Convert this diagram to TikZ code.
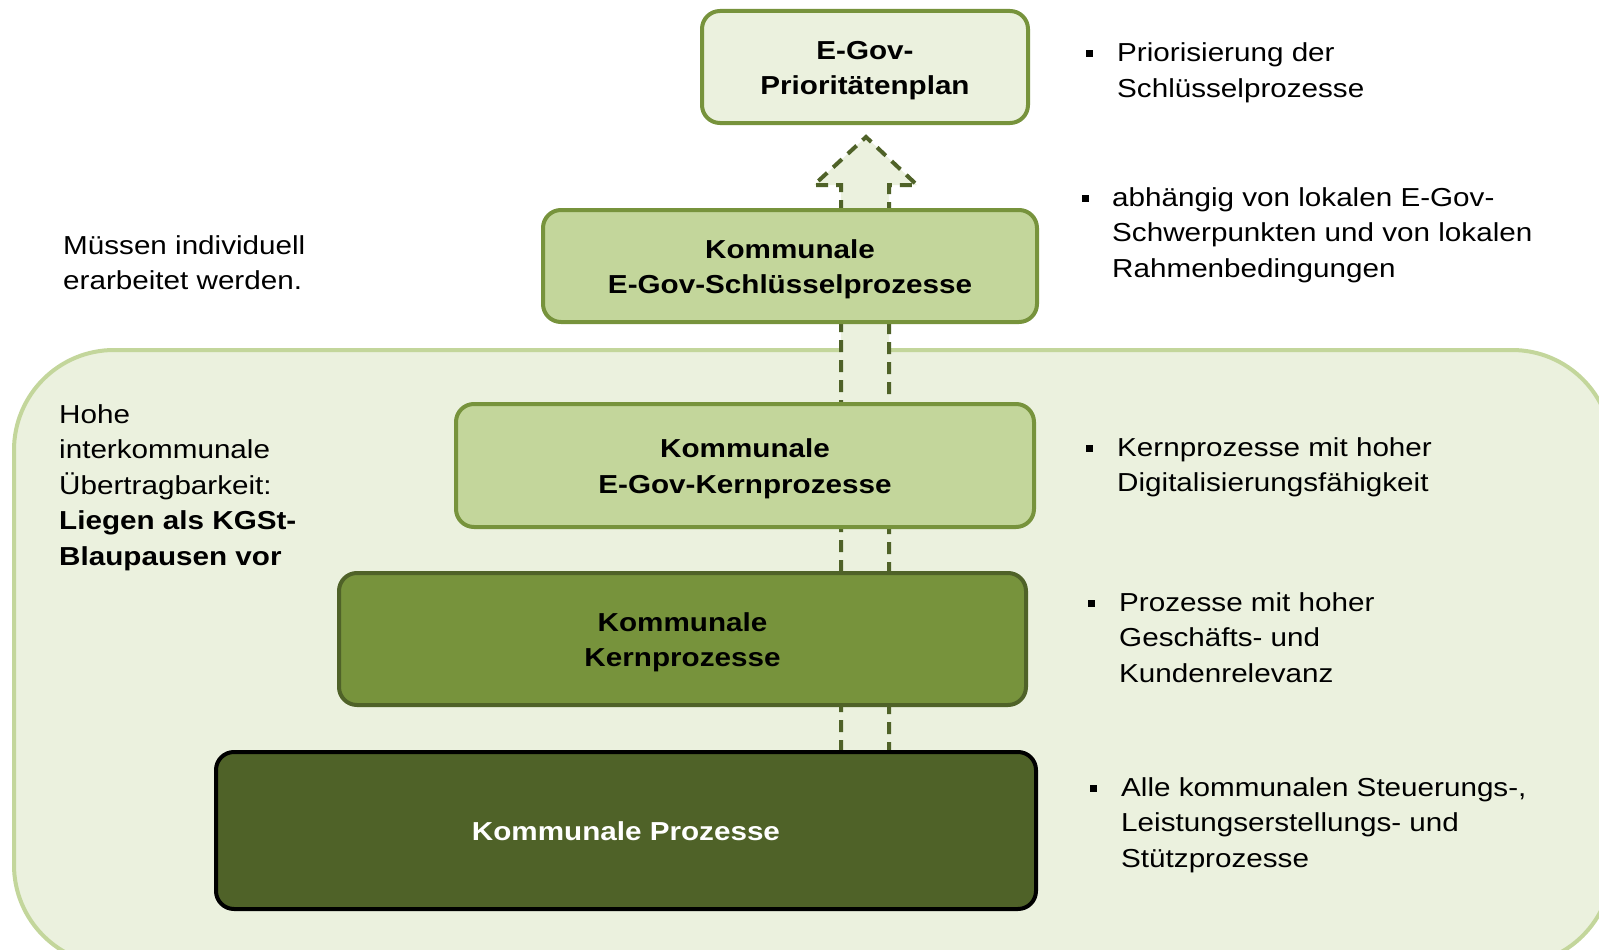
\documentclass[tikz,border=0pt]{standalone}
\usepackage{fontspec}
\setmainfont{Liberation Sans}[FakeStretch=1.14]
\definecolor{bgfill}{HTML}{EBF1DE}
\definecolor{bgline}{HTML}{C3D69B}
\definecolor{lightg}{HTML}{C3D69B}
\definecolor{midg}{HTML}{77933C}
\definecolor{darkg}{HTML}{4F6228}
\newcommand{\txtsize}{\fontsize{26}{35.5}\selectfont}
\newcommand{\lines}[1]{\begin{tabular}[t]{@{}l@{}}#1\end{tabular}}
\newcommand{\boxtext}[1]{\raisebox{-3pt}[\height][\depth]{\begin{tabular}{@{}c@{}}#1\end{tabular}}}
\begin{document}
\begin{tikzpicture}[x=1pt,y=-1pt,
  box/.style={draw, rounded corners=18pt, line width=4pt, align=center,
    font=\txtsize\bfseries, inner sep=0pt},
  lbl/.style={anchor=base west, inner sep=0pt, font=\txtsize},
  bul/.style={fill=black}]
\useasboundingbox (0,0) rectangle (1599,950);
\clip (0,0) rectangle (1599,950);
\fill[white] (0,0) rectangle (1599,950);
% background area
\draw[bgline, fill=bgfill, line width=4pt, rounded corners=100pt] (14,350) rectangle (1612,965);
% dashed upward arrow
\coordinate (tip) at (866,137);
\coordinate (sl) at (841,752);
\coordinate (sr) at (889,752);
\draw[darkg, fill=bgfill, line width=4pt, dash pattern=on 12pt off 8pt]
  (sl) -- (841,185) -- (814,185) -- (tip) -- (917,185) -- (889,185) -- (sr);
% boxes
\node[box, draw=midg, fill=bgfill, minimum width=326pt, minimum height=112pt] (prio) at (865,67) {\boxtext{E-Gov-\\Prioritätenplan}};
\node[box, draw=midg, fill=lightg, minimum width=494pt, minimum height=112pt] (schl) at (790,266) {\boxtext{Kommunale\\E-Gov-Schlüsselprozesse}};
\node[box, draw=midg, fill=lightg, minimum width=578pt, minimum height=123pt] (egk) at (745,465.5) {\boxtext{Kommunale\\E-Gov-Kernprozesse}};
\node[box, draw=darkg, fill=midg, minimum width=687pt, minimum height=132pt] (kk) at (682.5,639) {\boxtext{Kommunale\\Kernprozesse}};
\node[box, draw=black, fill=darkg, text=white, minimum width=820pt, minimum height=157pt] (kp) at (626,830.5) {\boxtext{Kommunale Prozesse}};
% left texts
\node[lbl] (l1) at (63,254) {\lines{Müssen individuell\\erarbeitet werden.}};
\node[lbl] (l2) at (59,423) {\lines{Hohe\\interkommunale\\Übertragbarkeit:\\\textbf{Liegen als KGSt-}\\\textbf{Blaupausen vor}}};
% right texts with bullets
\fill[bul] (1085.5,50.5) rectangle ++(7,7);
\node[lbl] (r1) at (1117,62) {\lines{Priorisierung der\\Schlüsselprozesse}};
\fill[bul] (1081.5,194.5) rectangle ++(7,7);
\node[lbl] (r2) at (1112,206) {\lines{abhängig von lokalen E-Gov-\\Schwerpunkten und von lokalen\\Rahmenbedingungen}};
\fill[bul] (1085.5,444.5) rectangle ++(7,7);
\node[lbl] (r3) at (1117,456) {\lines{Kernprozesse mit hoher\\Digitalisierungsfähigkeit}};
\fill[bul] (1087.5,599.5) rectangle ++(7,7);
\node[lbl] (r4) at (1119,611) {\lines{Prozesse mit hoher\\Geschäfts- und\\Kundenrelevanz}};
\fill[bul] (1089.5,784.5) rectangle ++(7,7);
\node[lbl] (r5) at (1121,796) {\lines{Alle kommunalen Steuerungs-,\\Leistungserstellungs- und\\Stützprozesse}};
\end{tikzpicture}
\end{document}
